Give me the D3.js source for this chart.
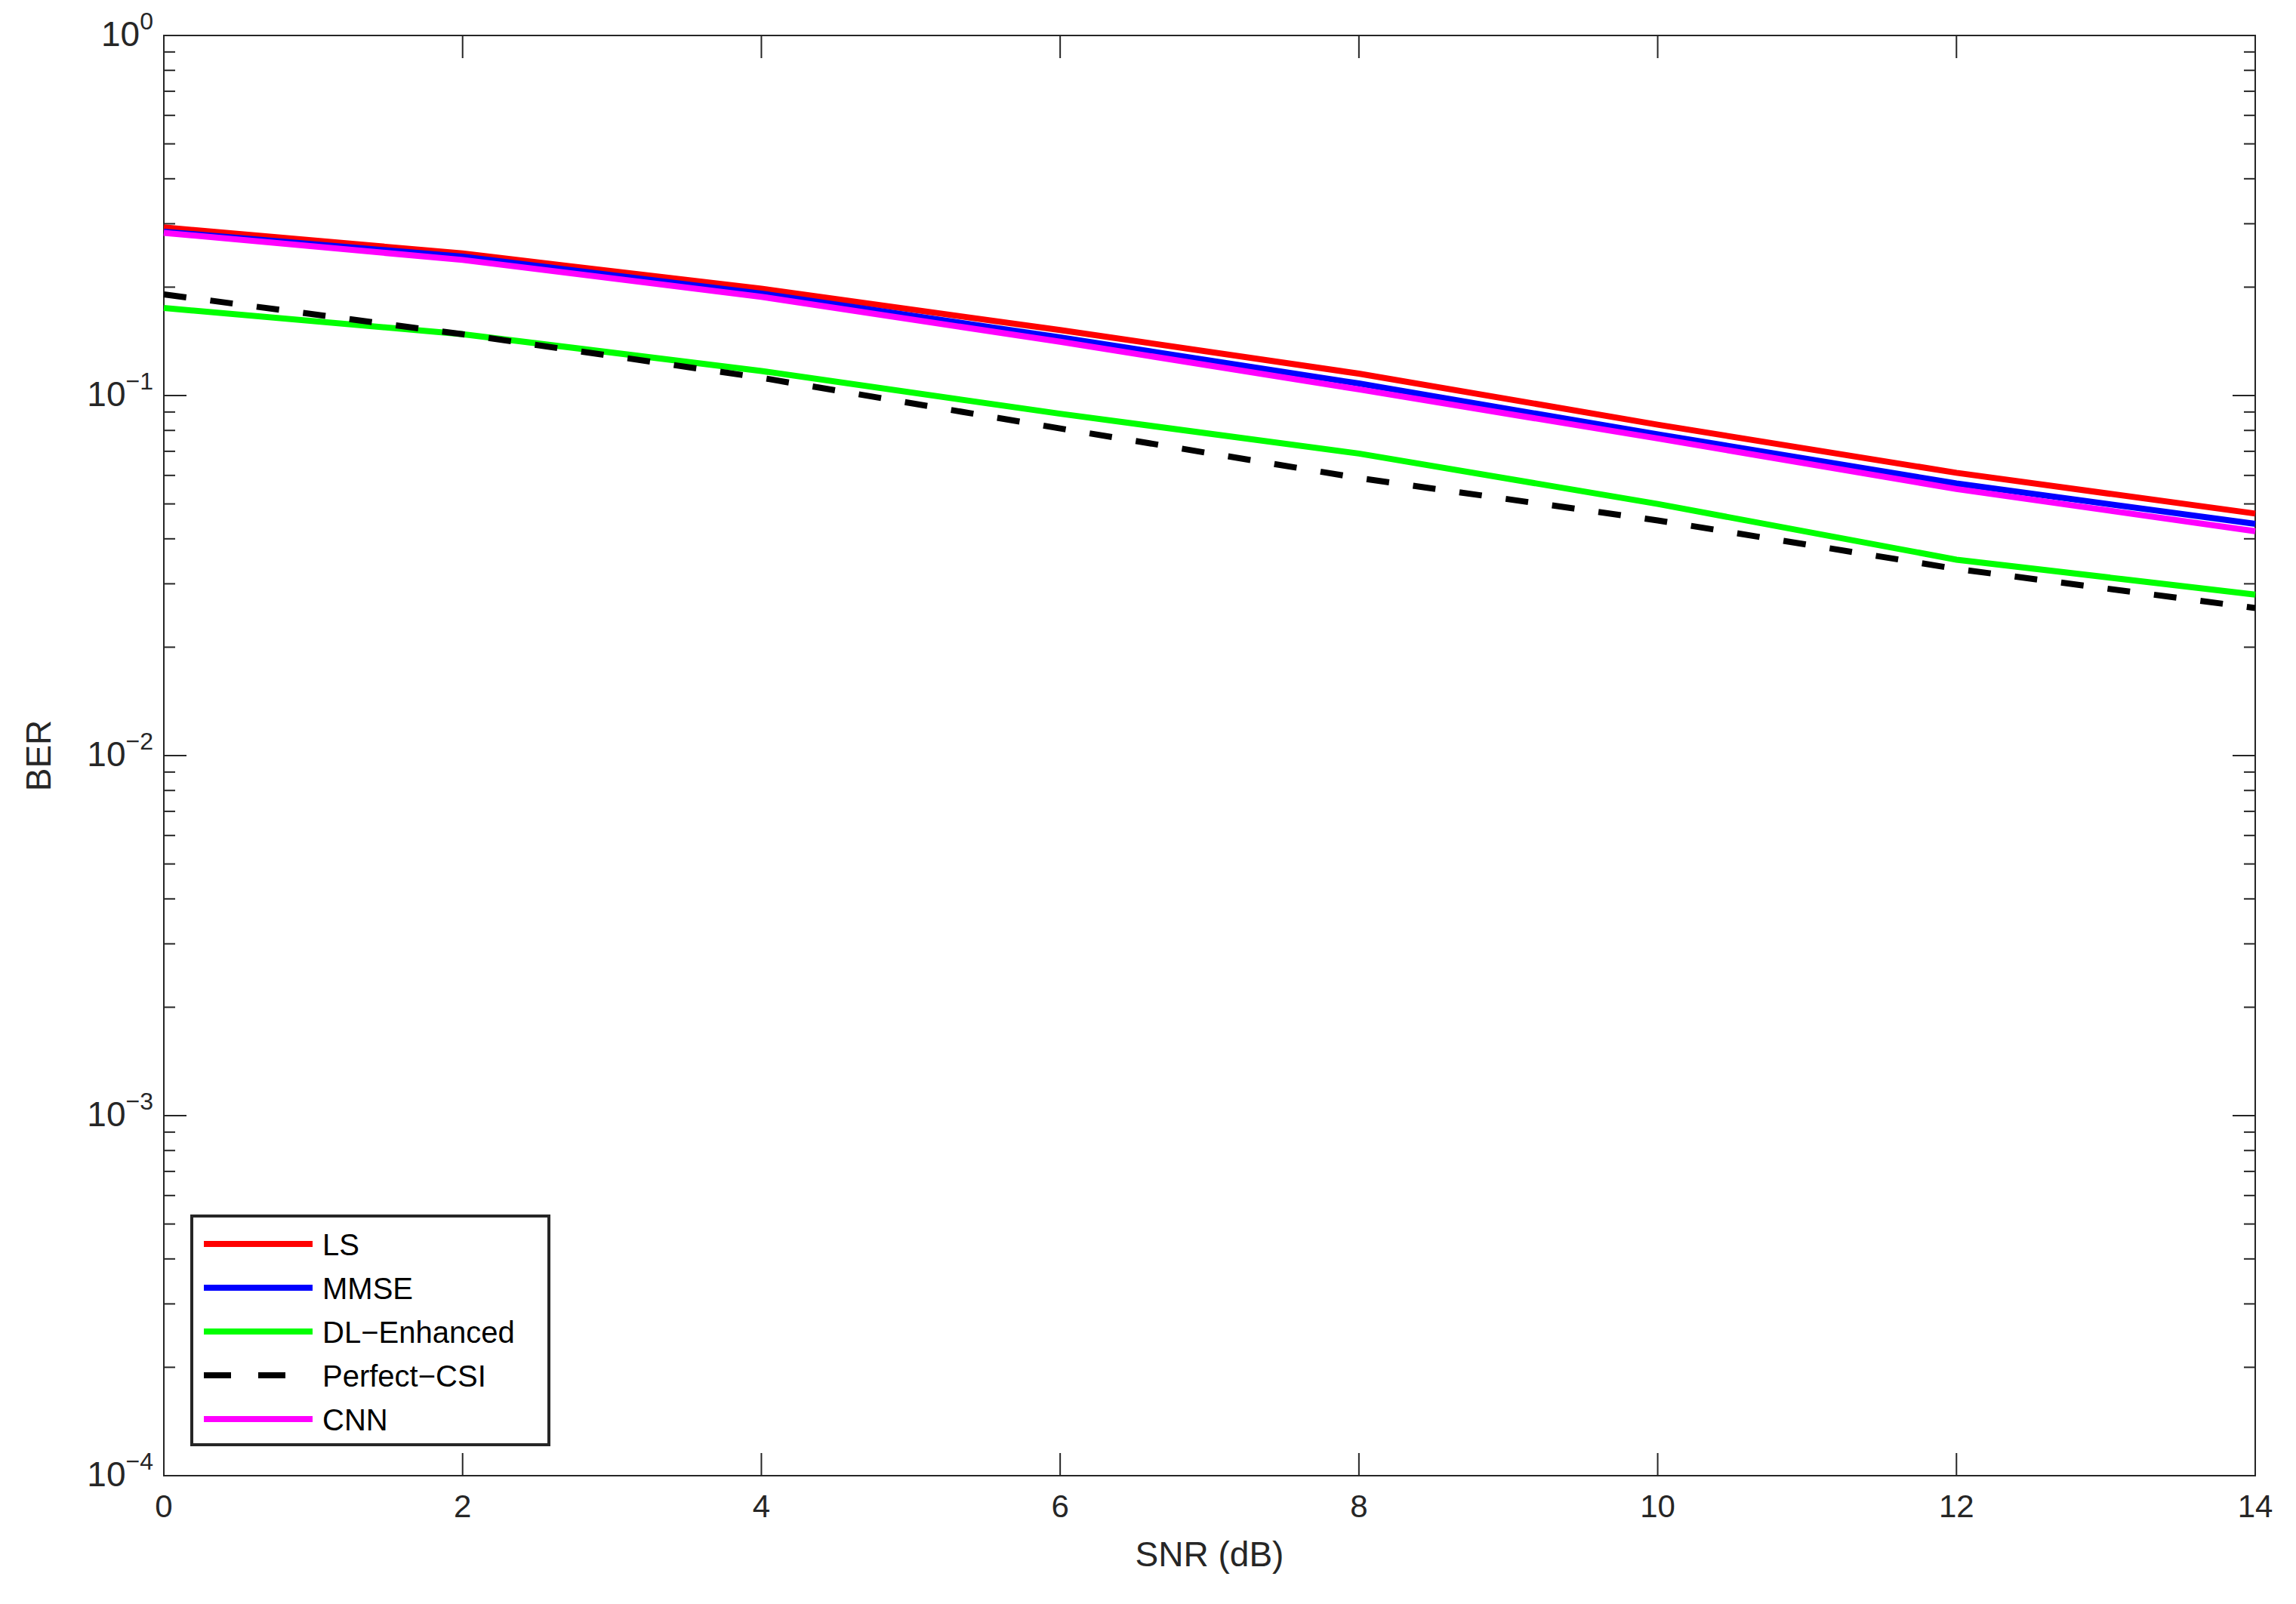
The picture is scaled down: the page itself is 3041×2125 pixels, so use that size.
<!DOCTYPE html>
<html><head><meta charset="utf-8">
<script src="https://cdn.jsdelivr.net/npm/d3@7"></script>
<style>body{margin:0;background:#fff}text{font-family:Arial,"Liberation Sans",sans-serif;fill:#262626}</style>
</head><body><svg id="c" width="3041" height="2125"></svg>
<script>
const snr = [0, 2, 4, 6, 8, 10, 12, 14];
const ls = [0.293, 0.248, 0.198, 0.152, 0.115, 0.083, 0.061, 0.047];
const mmse = [0.285, 0.243, 0.192, 0.145, 0.108, 0.078, 0.057, 0.044];
const dl = [0.175, 0.148, 0.117, 0.089, 0.069, 0.050, 0.035, 0.028];
const perfect = [0.191, 0.148, 0.112, 0.081, 0.059, 0.045, 0.033, 0.0257];
const cnn = [0.283, 0.238, 0.188, 0.141, 0.104, 0.076, 0.055, 0.042];
const series = [
  {name: "LS", v: ls, color: "#ff0000"},
  {name: "MMSE", v: mmse, color: "#0000ff"},
  {name: "DL\u2212Enhanced", v: dl, color: "#00ff00"},
  {name: "Perfect\u2212CSI", v: perfect, color: "#000000", dash: "30,32"},
  {name: "CNN", v: cnn, color: "#ff00ff"}
];
const xTicks = [0, 2, 4, 6, 8, 10, 12, 14];
const yExps = [0, -1, -2, -3, -4];

const L = 217, R = 2987, T = 47, B = 1955;
const svg = d3.select("#c");
const x = d3.scaleLinear().domain([0, 14]).range([L, R]);
const y = d3.scaleLog().domain([1e-4, 1]).range([B, T]);

const g = svg.append("g");
// plot area
const minor = [];
for (let e = -4; e < 0; e++) for (let m = 2; m <= 9; m++) minor.push(m * Math.pow(10, e));

const tk = "#262626";
// x ticks top/bottom
xTicks.forEach(t => {
  g.append("line").attr("x1", x(t)).attr("x2", x(t)).attr("y1", B).attr("y2", B - 30).attr("stroke", tk).attr("stroke-width", 2);
  g.append("line").attr("x1", x(t)).attr("x2", x(t)).attr("y1", T).attr("y2", T + 30).attr("stroke", tk).attr("stroke-width", 2);
  g.append("text").attr("x", x(t)).attr("y", B + 55).attr("text-anchor", "middle").attr("font-size", 42).text(t);
});
yExps.forEach(e => {
  const v = Math.pow(10, e);
  g.append("line").attr("x1", L).attr("x2", L + 30).attr("y1", y(v)).attr("y2", y(v)).attr("stroke", tk).attr("stroke-width", 2);
  g.append("line").attr("x1", R).attr("x2", R - 30).attr("y1", y(v)).attr("y2", y(v)).attr("stroke", tk).attr("stroke-width", 2);
  const t = g.append("text").attr("x", L - 14).attr("y", y(v) + 14).attr("text-anchor", "end").attr("font-size", 46);
  t.append("tspan").text("10");
  t.append("tspan").attr("dy", -22).attr("font-size", 32).text(e === 0 ? "0" : "\u2212" + (-e));
});
minor.forEach(v => {
  g.append("line").attr("x1", L).attr("x2", L + 15).attr("y1", y(v)).attr("y2", y(v)).attr("stroke", tk).attr("stroke-width", 2);
  g.append("line").attr("x1", R).attr("x2", R - 15).attr("y1", y(v)).attr("y2", y(v)).attr("stroke", tk).attr("stroke-width", 2);
});
g.append("rect").attr("x", L).attr("y", T).attr("width", R - L).attr("height", B - T).attr("fill", "none").attr("stroke", tk).attr("stroke-width", 2);

const line = d3.line().x((d, i) => x(snr[i])).y(d => y(d));
series.forEach(s => {
  g.append("path").attr("d", line(s.v)).attr("fill", "none").attr("stroke", s.color)
    .attr("stroke-width", 8).attr("stroke-dasharray", s.dash || null);
});

g.append("text").attr("x", (L + R) / 2).attr("y", B + 120).attr("text-anchor", "middle").attr("font-size", 46).text("SNR (dB)");
g.append("text").attr("transform", `translate(${L - 150},${(T + B) / 2}) rotate(-90)`).attr("text-anchor", "middle").attr("font-size", 46).text("BER");

// legend
const lg = svg.append("g").attr("transform", "translate(254,1611)");
lg.append("rect").attr("width", 473).attr("height", 303).attr("fill", "#fff").attr("stroke", "#262626").attr("stroke-width", 4);
series.forEach((s, i) => {
  const yy = 37 + i * 58;
  lg.append("line").attr("x1", 16).attr("x2", 160).attr("y1", yy).attr("y2", yy).attr("stroke", s.color)
    .attr("stroke-width", 8).attr("stroke-dasharray", s.dash ? "36,36" : null);
  lg.append("text").attr("x", 173).attr("y", yy + 15).attr("font-size", 40).attr("fill", "#000").style("fill", "#000").text(s.name);
});
</script></body></html>
